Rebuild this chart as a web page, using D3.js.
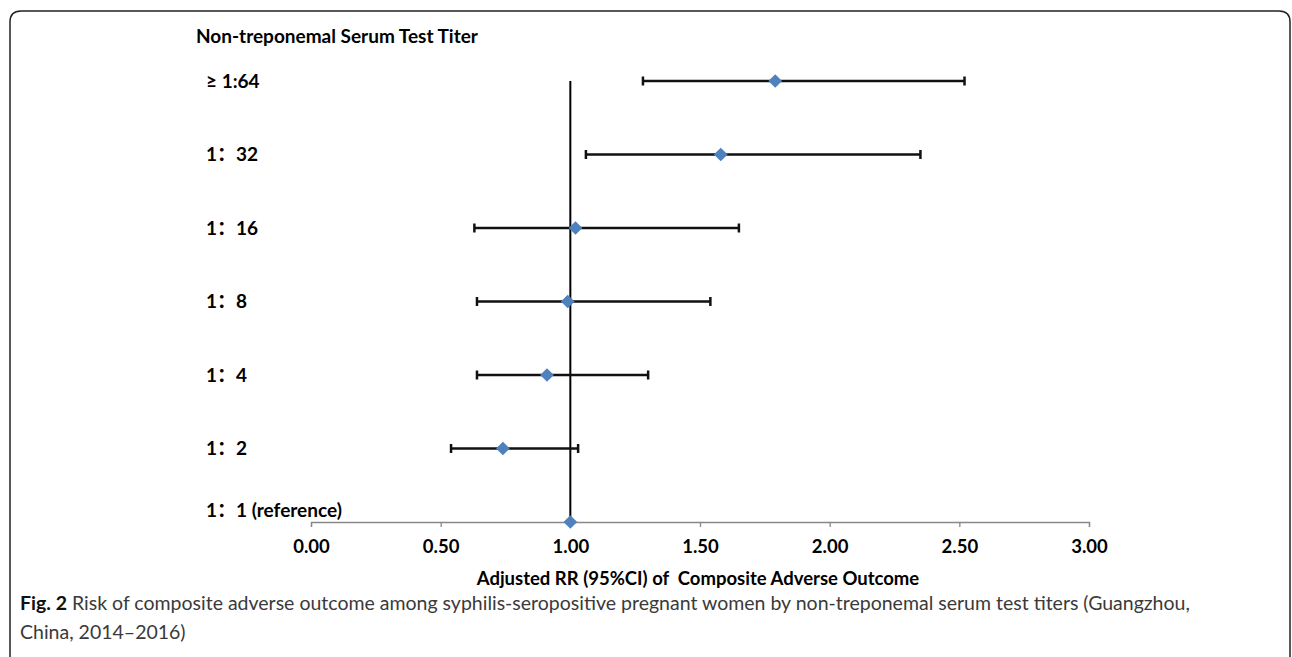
<!DOCTYPE html>
<html>
<head>
<meta charset="utf-8">
<script src="https://cdn.jsdelivr.net/npm/d3@7"></script>
<style>
  body { margin: 0; background: #fff; }
  svg { display: block; }
</style>
</head>
<body>
<script>
// Titer groups, top to bottom
const titers = ["≥ 1:64", "1：32", "1：16", "1：8", "1：4", "1：2", "1：1 (reference)"];
// Adjusted RR and 95% CI
const rr = [1.79, 1.58, 1.02, 0.99, 0.91, 0.74, 1.00];
const ciLow = [1.28, 1.06, 0.63, 0.64, 0.64, 0.54, 1.00];
const ciHigh = [2.52, 2.35, 1.65, 1.54, 1.30, 1.03, 1.00];
const xTicks = [0, 0.5, 1, 1.5, 2, 2.5, 3];

const width = 1292, height = 657;
const margin = { left: 311, right: 203, top: 81, bottom: 135 };

const svg = d3.select("body").append("svg")
    .attr("width", width)
    .attr("height", height)
    .attr("viewBox", [0, 0, width, height]);

// rounded frame around the figure
svg.append("path")
    .attr("d", "M10,660 L10,22 Q10,11 21,11 L1279,11 Q1290,11 1290,22 L1290,660")
    .attr("fill", "none")
    .attr("stroke", "#222")
    .attr("stroke-width", 1.5);

const x = d3.scaleLinear()
    .domain([0, 3])
    .range([margin.left, width - margin.right]);

// row index: 6 for top group, 0 for reference
const y = d3.scaleLinear()
    .domain([0, titers.length - 1])
    .range([height - margin.bottom, margin.top]);

const rows = titers.map((t, i) => ({
    label: t, rr: rr[i], lo: ciLow[i], hi: ciHigh[i], row: titers.length - 1 - i
}));

const boldFont = "Lato, 'Noto Sans CJK SC', sans-serif";

// x axis
const xAxis = svg.append("g")
    .attr("transform", `translate(0,${y(0)})`)
    .call(d3.axisBottom(x).tickValues(xTicks).tickFormat(d3.format(".2f")).tickSize(5).tickPadding(13));
xAxis.selectAll("path, line").attr("stroke", "#888").attr("stroke-width", 1.3);
xAxis.selectAll("text")
    .attr("fill", "#000")
    .style("font-family", boldFont)
    .style("font-weight", "bold")
    .style("font-size", "18.5px");

// reference line at RR = 1
svg.append("line")
    .attr("x1", x(1)).attr("x2", x(1))
    .attr("y1", y(0)).attr("y2", y(6))
    .attr("stroke", "#000")
    .attr("stroke-width", 2);

// error bars
const bars = svg.append("g")
    .attr("stroke", "#111")
    .attr("stroke-width", 2.5)
    .selectAll("g")
    .data(rows.filter(d => d.hi > d.lo))
    .join("g");

bars.append("line")
    .attr("x1", d => x(d.lo)).attr("x2", d => x(d.hi))
    .attr("y1", d => y(d.row)).attr("y2", d => y(d.row));
bars.append("line")
    .attr("x1", d => x(d.lo)).attr("x2", d => x(d.lo))
    .attr("y1", d => y(d.row) - 4.5).attr("y2", d => y(d.row) + 4.5);
bars.append("line")
    .attr("x1", d => x(d.hi)).attr("x2", d => x(d.hi))
    .attr("y1", d => y(d.row) - 4.5).attr("y2", d => y(d.row) + 4.5);

// point estimates
svg.append("g")
    .selectAll("path")
    .data(rows)
    .join("path")
    .attr("transform", d => `translate(${x(d.rr)},${y(d.row)})`)
    .attr("d", d3.symbol(d3.symbolDiamond2, 120))
    .attr("fill", "#4f81bd");

// group labels
svg.append("g")
    .style("font-family", boldFont)
    .style("font-weight", "bold")
    .style("font-size", "19px")
    .selectAll("text")
    .data(rows)
    .join("text")
    .attr("x", 206)
    .attr("y", d => d.row === 0 ? y(0) - 12 : y(d.row))
    .attr("dy", "0.35em")
    .text(d => d.label);

svg.append("text")
    .attr("x", 196)
    .attr("y", 36)
    .attr("dy", "0.35em")
    .style("font-family", boldFont)
    .style("font-weight", "bold")
    .style("font-size", "19px")
    .text("Non-treponemal Serum Test Titer");

// axis title
svg.append("text")
    .attr("x", 698)
    .attr("y", 579)
    .attr("dy", "0.35em")
    .attr("text-anchor", "middle")
    .style("font-family", boldFont)
    .style("font-weight", "bold")
    .style("font-size", "18.5px")
    .style("white-space", "pre")
    .text("Adjusted RR (95%CI) of  Composite Adverse Outcome");

// figure caption
const caption = svg.append("text")
    .attr("x", 20)
    .attr("y", 610)
    .style("font-family", "Lato, sans-serif")
    .style("font-size", "19.5px")
    .attr("fill", "#3a3a3a");
caption.append("tspan").style("font-weight", "bold").attr("fill", "#111").text("Fig. 2");
caption.append("tspan").text(" Risk of composite adverse outcome among syphilis-seropositive pregnant women by non-treponemal serum test titers (Guangzhou,");

svg.append("text")
    .attr("x", 20)
    .attr("y", 639)
    .style("font-family", "Lato, sans-serif")
    .style("font-size", "19.5px")
    .attr("fill", "#3a3a3a")
    .text("China, 2014–2016)");
</script>
</body>
</html>
